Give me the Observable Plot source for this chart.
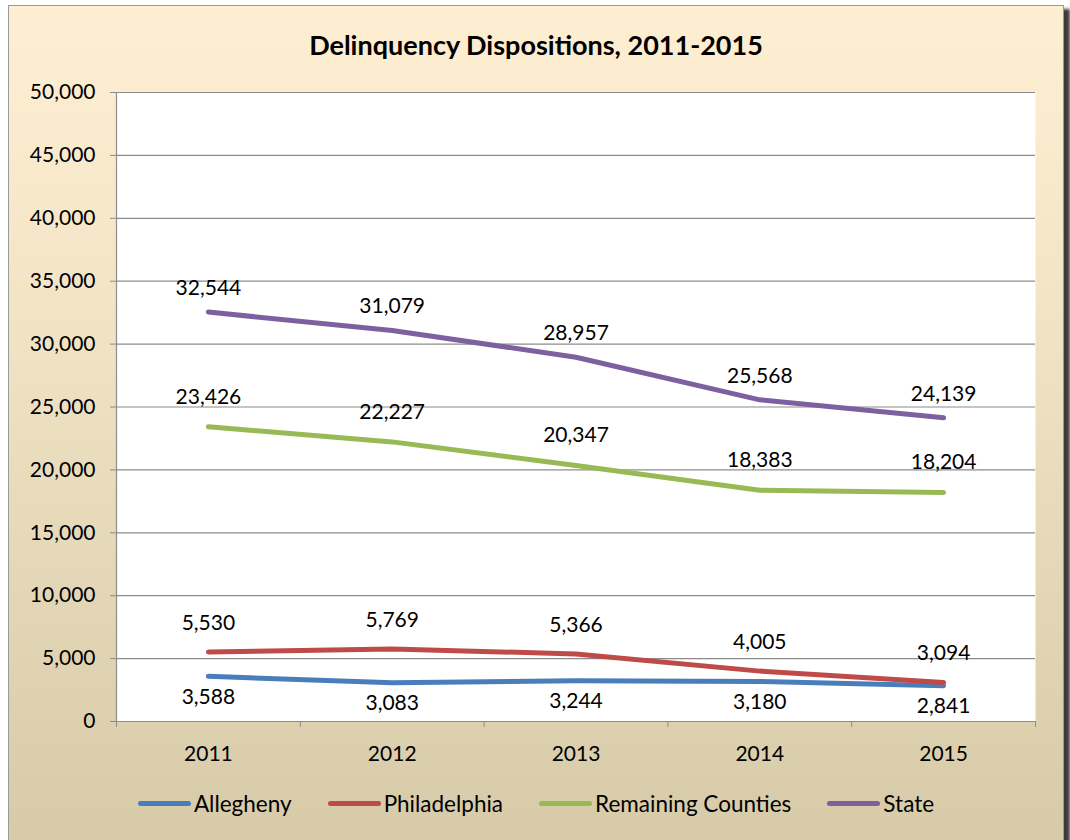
<!DOCTYPE html>
<html><head><meta charset="utf-8">
<script src="https://cdn.jsdelivr.net/npm/d3@7"></script>
<script src="https://cdn.jsdelivr.net/npm/@observablehq/plot@0.6"></script>
<style>
html,body{margin:0;padding:0;width:1070px;height:840px;overflow:hidden;background:#fff;font-family:Lato,"Open Sans",sans-serif;}
#frame{position:absolute;left:8px;top:5px;width:1054px;height:860px;border:1px solid #9a9a9a;border-bottom:none;background:linear-gradient(180deg,#fdeed2 0%,#fbebce 15%,#e9dcbd 55%,#d6c9a6 100%);box-shadow:6px 4px 3px #3a3a3a;}
#title{position:absolute;left:8px;width:1056px;top:29px;line-height:32px;text-align:center;font-weight:bold;font-size:27px;color:#000;}
#chart{position:absolute;left:0;top:60px;}
#legend{position:absolute;top:790px;left:8px;width:1056px;display:flex;justify-content:center;gap:36px;font-size:22.5px;color:#000;}
.item{display:flex;align-items:center;}
.sw{display:inline-block;width:53px;height:5px;border-radius:3px;margin-right:3px;}
</style>
</head><body>
<div id="frame"></div>
<div id="title">Delinquency Dispositions, 2011-2015</div>
<div id="chart"></div>
<div id="legend"></div>
<script>
const years = [2011, 2012, 2013, 2014, 2015];
const allegheny = [3588, 3083, 3244, 3180, 2841];
const philadelphia = [5530, 5769, 5366, 4005, 3094];
const remaining = [23426, 22227, 20347, 18383, 18204];
const stateTotal = [32544, 31079, 28957, 25568, 24139];
const seriesNames = ["Allegheny", "Philadelphia", "Remaining Counties", "State"];
const seriesColors = ["#4a7ebb", "#be4b48", "#98b954", "#7d60a0"];
const yTicks = [0, 5000, 10000, 15000, 20000, 25000, 30000, 35000, 40000, 45000, 50000];

const seriesValues = [allegheny, philadelphia, remaining, stateTotal];
const rows = [];
seriesNames.forEach((name, i) => {
  years.forEach((yr, j) => rows.push({series: name, year: yr, value: seriesValues[i][j]}));
});
const boundaries = [years[0] - 0.5, ...years.map(y => y + 0.5)];
const fmt = d3.format(",");
const grid = "#8c8c8c";

const labelMark = (name, dy) => Plot.text(rows.filter(d => d.series === name), {
  x: "year", y: "value", text: d => fmt(d.value), dy, fill: "#000"
});

const chart = Plot.plot({
  width: 1070, height: 700,
  marginLeft: 116, marginRight: 35, marginTop: 32, marginBottom: 39,
  style: {background: "transparent", fontFamily: "Lato, 'Open Sans', sans-serif", fontSize: "21px", color: "#000", overflow: "visible"},
  x: {domain: [boundaries[0], boundaries[boundaries.length - 1]]},
  y: {domain: [0, 50000]},
  color: {domain: seriesNames, range: seriesColors},
  marks: [
    Plot.frame({fill: "white", stroke: "none"}),
    Plot.ruleY(yTicks, {stroke: grid, strokeWidth: 1.2}),
    Plot.ruleX([boundaries[0]], {stroke: grid, strokeWidth: 1.2}),
    Plot.axisY({ticks: yTicks, tickFormat: d => fmt(d), tickSize: 6, tickPadding: 15, stroke: grid, fill: "#000", label: null}),
    Plot.axisX({ticks: boundaries, tickFormat: () => "", tickSize: 6, stroke: grid, label: null}),
    Plot.axisX({ticks: years, tickFormat: d => String(d), tickSize: 0, tickPadding: 25, fill: "#000", label: null}),
    Plot.line(rows, {x: "year", y: "value", z: "series", stroke: "series", strokeWidth: 5, strokeLinecap: "round", strokeLinejoin: "round"}),
    labelMark("State", -24),
    labelMark("Remaining Counties", -30),
    labelMark("Philadelphia", -29),
    labelMark("Allegheny", 21)
  ]
});
document.getElementById("chart").appendChild(chart);

const legend = document.getElementById("legend");
seriesNames.forEach((name, i) => {
  const it = document.createElement("div");
  it.className = "item";
  it.innerHTML = `<span class="sw" style="background:${seriesColors[i]}"></span><span>${name}</span>`;
  legend.appendChild(it);
});
</script>
</body></html>
